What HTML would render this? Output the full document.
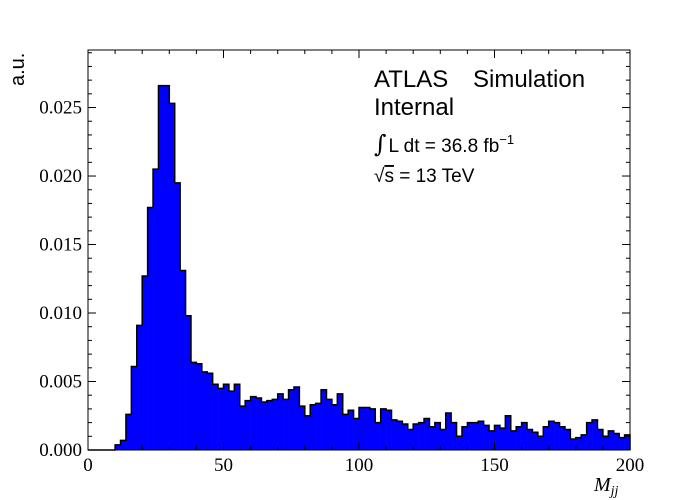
<!DOCTYPE html>
<html><head><meta charset="utf-8"><style>
html,body{margin:0;padding:0;background:#fff;}
svg{display:block;}
.tk{font-family:"Liberation Serif",serif;font-size:19px;fill:#000;}
.sans{font-family:"Liberation Sans",sans-serif;fill:#000;white-space:pre;}
</style></head><body>
<svg id="chart" width="700" height="500" viewBox="0 0 700 500" xmlns="http://www.w3.org/2000/svg">
<rect x="0" y="0" width="700" height="500" fill="#fff"/>
<g id="bars"></g>
<g id="ticks"></g>
<rect x="88" y="50" width="542" height="400" fill="none" stroke="#000" stroke-width="1"/>
<text class="sans" x="0" y="0" font-size="20" transform="translate(24,86) rotate(-90)">a.u.</text>
<text x="594" y="491" font-family="Liberation Serif,serif" font-style="italic" font-size="20">M<tspan font-size="14" dy="4">jj</tspan></text>
<g>
<text class="sans" x="374" y="87" font-size="24">ATLAS<tspan x="473">Simulation</tspan></text>
<text class="sans" x="374" y="115" font-size="24">Internal</text>
<text class="sans" x="374" y="152" font-size="19"><tspan font-family="DejaVu Serif,serif" font-style="italic" font-size="24">∫</tspan><tspan dx="2">L dt = 36.8 fb</tspan><tspan font-size="13" dy="-8">−1</tspan></text>
<text class="sans" x="374" y="182" font-size="19">√<tspan text-decoration="overline">s</tspan> = 13 TeV</text>
</g>
</svg>
<script>
const binLow = [10,12,14,16,18,20,22,24,26,28,30,32,34,36,38,40,42,44,46,48,50,52,54,56,58,60,62,64,66,68,70,72,74,76,78,80,82,84,86,88,90,92,94,96,98,100,102,104,106,108,110,112,114,116,118,120,122,124,126,128,130,132,134,136,138,140,142,144,146,148,150,152,154,156,158,160,162,164,166,168,170,172,174,176,178,180,182,184,186,188,190,192,194,196,198];
const values = [0.00037,0.0007,0.0026,0.0061,0.0091,0.0127,0.0177,0.0205,0.0266,0.0266,0.0253,0.0195,0.0131,0.0098,0.0064,0.0063,0.0057,0.0056,0.0048,0.0045,0.0048,0.0043,0.0048,0.0032,0.0036,0.0039,0.0038,0.0035,0.0036,0.0037,0.0041,0.0037,0.0044,0.0046,0.0032,0.0025,0.0033,0.0034,0.0044,0.0037,0.0033,0.0041,0.0026,0.0029,0.0023,0.0031,0.0031,0.0030,0.0020,0.0030,0.0029,0.0022,0.0021,0.0019,0.0015,0.0019,0.0020,0.0023,0.0017,0.0020,0.0015,0.0027,0.0020,0.0010,0.0017,0.0020,0.0020,0.0021,0.0018,0.0014,0.0018,0.0016,0.0025,0.0014,0.0017,0.0020,0.0015,0.0013,0.0010,0.0017,0.0021,0.0020,0.0017,0.0015,0.0008,0.0009,0.0011,0.0020,0.0022,0.0015,0.0010,0.0014,0.0012,0.0009,0.0011];
const binWidth = 2;
const xTicks = [0,50,100,150,200];
const yTicks = [0,0.005,0.010,0.015,0.020,0.025];
const yTickLabels = ["0.000","0.005","0.010","0.015","0.020","0.025"];

const NS="http://www.w3.org/2000/svg";
const X0=88,X1=630,Y0=450,Y1=50;
const xs=v=>X0+(v-0)/(200-0)*(X1-X0);
const ys=v=>Y0-v/0.0292*(Y0-Y1);
const bars=document.getElementById('bars');
let d=`M${xs(0)},${ys(0)} L${xs(binLow[0])},${ys(0)}`;
binLow.forEach((b,i)=>{
  const r=document.createElementNS(NS,'rect');
  r.setAttribute('x',xs(b));r.setAttribute('width',xs(b+binWidth)-xs(b)+0.3);
  r.setAttribute('y',ys(values[i]));r.setAttribute('height',ys(0)-ys(values[i]));
  r.setAttribute('fill','#0000ff');
  
  
  bars.appendChild(r);
  d+=` L${xs(b)},${ys(values[i])} L${xs(b+binWidth)},${ys(values[i])}`;
});
const last=binLow[binLow.length-1]+binWidth;
d+=` L${xs(last)},${ys(0)}`;
const p=document.createElementNS(NS,'path');
p.setAttribute('d',d);p.setAttribute('fill','none');p.setAttribute('stroke','#000');p.setAttribute('stroke-width','1.5');


bars.appendChild(p);

const tg=document.getElementById('ticks');
function line(x1,y1,x2,y2){const l=document.createElementNS(NS,'line');l.setAttribute('x1',x1);l.setAttribute('y1',y1);l.setAttribute('x2',x2);l.setAttribute('y2',y2);l.setAttribute('stroke','#000');l.setAttribute('stroke-width','1');


tg.appendChild(l);}
for(let v=0;v<=200;v+=10){const x=xs(v);const L=(v%50===0)?8:4;line(x,Y0,x,Y0-L);line(x,Y1,x,Y1+L);}
for(let k=0;k<=29;k++){const v=k*0.001;const y=ys(v);const L=(k%5===0)?8:4;line(X0,y,X0+L,y);line(X1,y,X1-L,y);}
xTicks.forEach(v=>{const t=document.createElementNS(NS,'text');t.setAttribute('class','tk');t.setAttribute('x',xs(v));t.setAttribute('y',471);t.setAttribute('text-anchor','middle');t.textContent=String(v);


tg.appendChild(t);});
yTicks.forEach((v,i)=>{const t=document.createElementNS(NS,'text');t.setAttribute('class','tk');t.setAttribute('x',82);t.setAttribute('y',ys(v)+6);t.setAttribute('text-anchor','end');t.textContent=yTickLabels[i];


tg.appendChild(t);});
</script>
</body></html>
